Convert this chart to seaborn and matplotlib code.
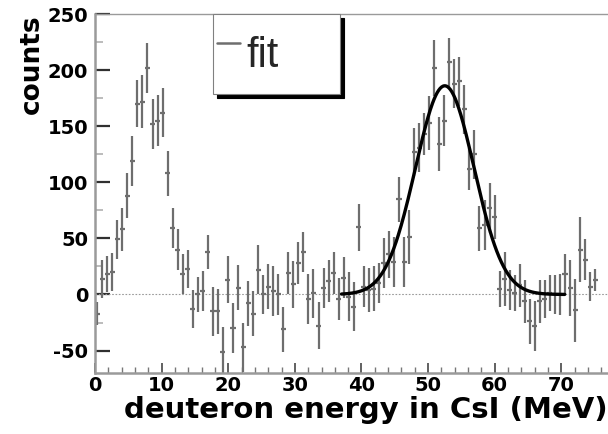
import numpy as np
import pandas as pd
import matplotlib
matplotlib.use("Agg")
import matplotlib.pyplot as plt
import seaborn as sns
from matplotlib.ticker import MultipleLocator
from matplotlib.lines import Line2D

# ---------------- data ----------------
bin_width = 0.755          # MeV, histogram bin width
first_bin_center = 0.33    # MeV

counts = [-17, 14, 18, 20, 49, 58, 88, 119, 170, 172,
          202, 152, 155, 162, 108, 59, 40, 18, 23, -13,
          0, 3, 38, -15, -15, -51, 13, -30, 6, -47,
          -8, -17, 22, 0, 7, 3, 0, -31, 19, 9,
          28, 38, -4, 1, -28, 6, 12, 19, -4, 15,
          -2, -11, 60, 7, 4, 5, 10, 28, 36, 29,
          85, 29, 51, 127, 131, 143, 153, 202, 134, 155,
          207, 188, 190, 165, 112, 125, 59, 62, 77, 69,
          5, 14, 4, 1, 8, -6, -24, -28, -6, -4,
          1, 0, 0, 18, 6, -14, 40, 31, 7, 13]

errors = [10, 17, 16, 17, 17, 19, 20, 22, 21, 24,
          22, 22, 23, 22, 20, 18, 18, 18, 17, 17,
          16, 18, 15, 22, 20, 22, 21, 22, 20, 22,
          20, 20, 22, 17, 20, 22, 18, 20, 19, 21,
          19, 18, 22, 22, 21, 18, 19, 19, 19, 18,
          22, 22, 21, 18, 20, 20, 18, 22, 21, 22,
          20, 22, 24, 21, 22, 19, 24, 25, 24, 23,
          22, 22, 22, 22, 19, 22, 20, 22, 22, 20,
          16, 24, 18, 16, 19, 19, 20, 22, 19, 17,
          16, 17, 18, 18, 25, 28, 29, 18, 13, 10]

# Gaussian fit parameters
fit_amplitude = 186.0
fit_mean = 52.5
fit_sigma = 4.4
fit_start, fit_end = 37.0, 70.5

x_ticks = [0, 10, 20, 30, 40, 50, 60, 70]
y_ticks = [-50, 0, 50, 100, 150, 200, 250]

# ---------------- figure ----------------
sns.set_theme(style="ticks")
plt.rcParams["font.family"] = ["DejaVu Sans"]
plt.rcParams["font.weight"] = "bold"
plt.rcParams["axes.unicode_minus"] = False

energy = first_bin_center + bin_width * np.arange(len(counts))
df = pd.DataFrame({"energy": energy, "counts": counts, "err": errors})

fit_x = np.linspace(fit_start, fit_end, 300)
fit_df = pd.DataFrame({
    "energy": fit_x,
    "counts": fit_amplitude * np.exp(-0.5 * ((fit_x - fit_mean) / fit_sigma) ** 2),
})

W, H = 608, 434
fig = plt.figure(figsize=(W / 100, H / 100), dpi=100)
ax = fig.add_axes([95 / W, (H - 373) / H, (W - 95) / W, (373 - 14) / H])

# zero reference line
ax.axhline(0, color="#9a9a9a", lw=0.8, ls=(0, (1.5, 1.5)), zorder=1)

# data points with error bars
ax.errorbar(df["energy"], df["counts"], yerr=df["err"], xerr=bin_width / 2,
            fmt="none", ecolor="#6e6e6e", elinewidth=1.6, capsize=0, zorder=2)

# fit curve
sns.lineplot(data=fit_df, x="energy", y="counts", ax=ax, color="black",
             lw=2.4, zorder=3, legend=False)

ax.set_xlim(0, 77)
ax.set_ylim(-70, 250)
ax.set_xticks(x_ticks)
ax.set_yticks(y_ticks)
ax.xaxis.set_minor_locator(MultipleLocator(2))
ax.yaxis.set_minor_locator(MultipleLocator(25))

ax.tick_params(axis="both", which="both", direction="in", top=False, right=False)
ax.tick_params(axis="y", which="major", length=11, width=1.6, color="#303030",
               labelsize=14, pad=5)
ax.tick_params(axis="y", which="minor", length=6, width=1.2, color="#b0b0b0")
ax.tick_params(axis="x", which="major", length=7.5, width=1.3, color="#555555",
               labelsize=14, pad=2)
ax.tick_params(axis="x", which="minor", length=4, width=1.0, color="#777777")
for lbl in ax.get_xticklabels() + ax.get_yticklabels():
    lbl.set_fontweight("bold")
    lbl.set_color("black")

for side in ["left", "bottom"]:
    ax.spines[side].set_color("#9a9a9a")
    ax.spines[side].set_linewidth(1.8)
ax.spines["top"].set_color("#9a9a9a")
ax.spines["top"].set_linewidth(1.0)
ax.spines["right"].set_visible(False)

ax.set_xlabel("deuteron energy in CsI (MeV)", fontsize=21, fontweight="bold",
              loc="right", labelpad=1, color="black")
ax.set_ylabel("counts", fontsize=19, fontweight="bold", loc="top",
              labelpad=2, color="black")

# legend
handle = Line2D([], [], color="#6e6e6e", lw=1.8)
leg = ax.legend([handle], ["fit"], loc="upper left",
                bbox_to_anchor=((213 - 95) / 513, 0.0, (340 - 213) / 513, 1.0),
                mode="expand", borderaxespad=0, borderpad=0.1,
                handlelength=0.55, handletextpad=0.15, handleheight=2.27,
                prop={"family": "Liberation Sans", "size": 30, "weight": "normal"},
                frameon=True, fancybox=False,
                shadow={"ox": 3, "oy": -3, "color": "black", "alpha": 1.0})
leg.get_frame().set_edgecolor("#808080")
leg.get_frame().set_linewidth(0.8)
leg.get_frame().set_facecolor("white")
leg.get_frame().set_alpha(1.0)

fig.savefig("out.png", dpi=100)
